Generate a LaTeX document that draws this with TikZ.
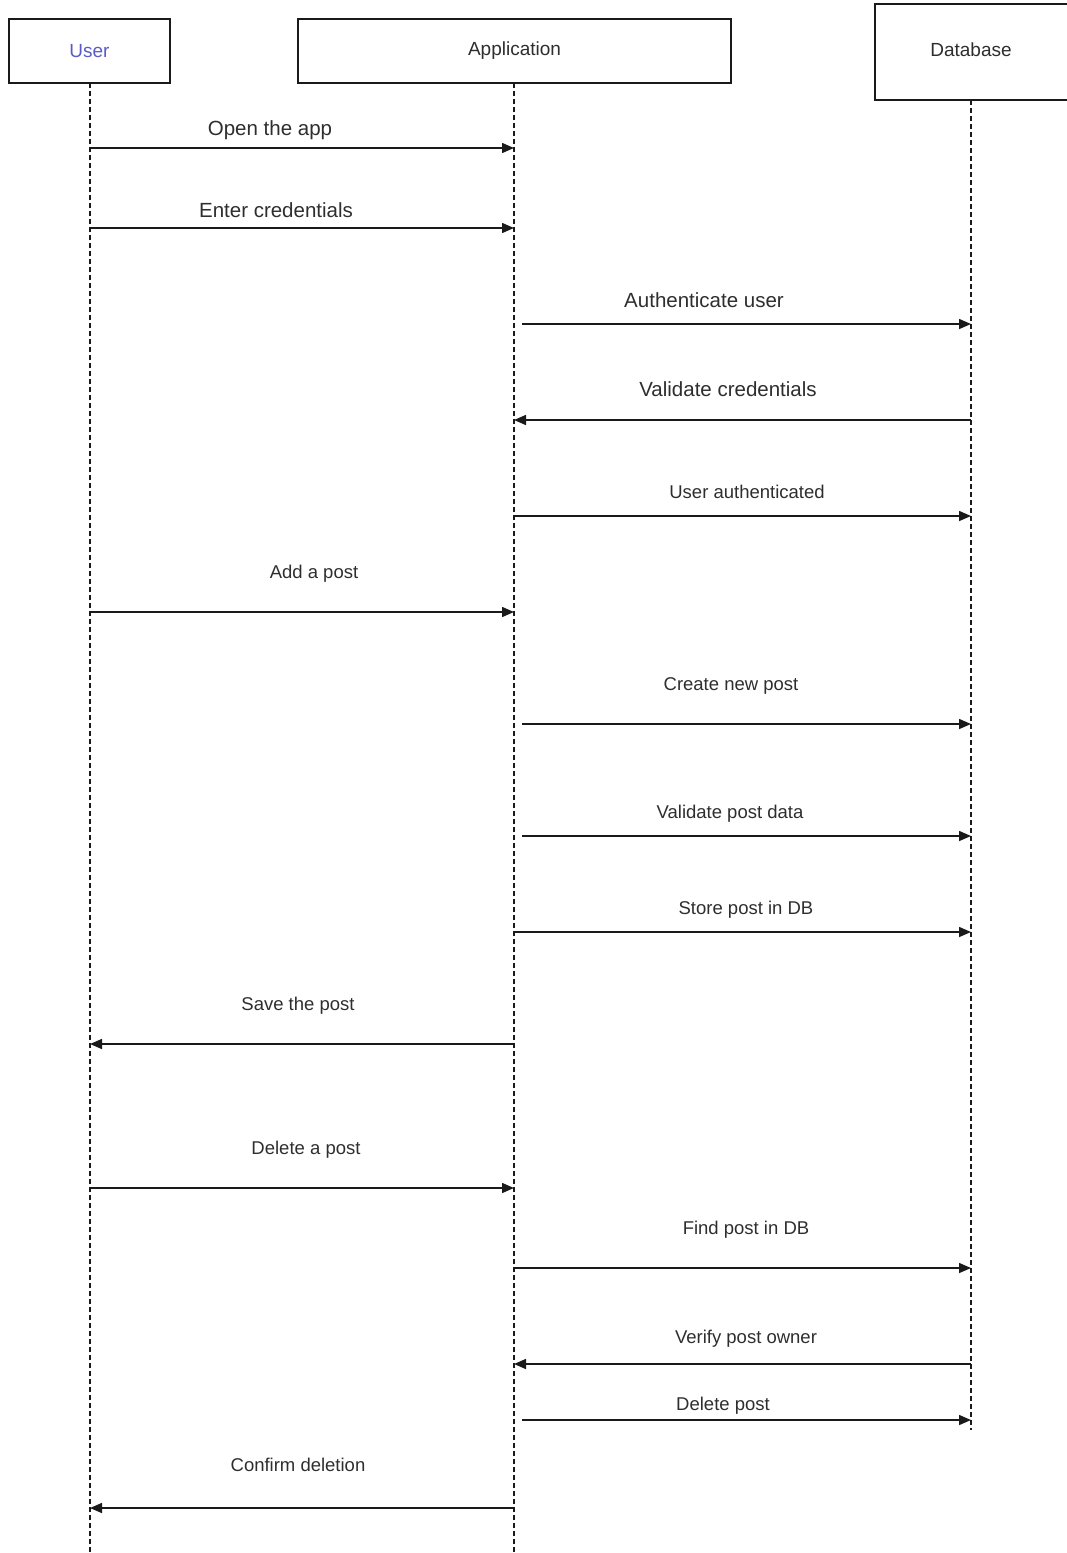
\documentclass[tikz,border=0pt]{standalone}
\usepackage{fontspec}
\setmainfont{Liberation Sans}
\usetikzlibrary{arrows.meta}
\definecolor{ink}{HTML}{1A1A1A}
\definecolor{textink}{HTML}{2E2E2E}
\definecolor{usertext}{HTML}{5B5BC8}
\begin{document}
\begin{tikzpicture}[x=1pt,y=-1pt,
  actor/.style={draw=ink, line width=1.3pt, fill=white, inner sep=0pt,
    font=\fontsize{19}{23}\selectfont, text=textink},
  lifeline/.style={draw=ink, line width=1.2pt, dash pattern=on 5pt off 3pt},
  msgline/.style={draw=ink, line width=1.5pt, -{Triangle[length=12pt,width=10pt]}},
  biglabel/.style={text=textink, font=\fontsize{20.5}{24}\selectfont, inner sep=0pt, anchor=base},
  smalllabel/.style={text=textink, font=\fontsize{18.5}{22}\selectfont, inner sep=0pt, anchor=base}]
\useasboundingbox (0,0) rectangle (1066,1553);

% participants
\node[actor, minimum width=161pt, minimum height=64pt, text=usertext] (user) at (89.5,51) {User};
\node[actor, minimum width=433pt, minimum height=64pt] (app) at (514.5,51) {Application};
\node[actor, minimum width=196pt, minimum height=96pt, text depth=0pt] (db) at (973,52) {};
\node[font=\fontsize{19}{23}\selectfont, text=textink] (dbname) at (971,50) {Database};

% lifeline ends
\coordinate (userend) at (90,1553);
\coordinate (append) at (514,1553);
\coordinate (dbend) at (971,1430);
\coordinate (usertop) at (90,83);
\coordinate (apptop) at (514,83);
\coordinate (dbtop) at (971,100);
\draw[lifeline] (usertop) -- (userend);
\draw[lifeline] (apptop) -- (append);
\draw[lifeline] (dbtop) -- (dbend);

% messages: \msg{y}{start x}{end x}{label}{label x}{label y}{style}
\newcommand{\msg}[7]{%
  \coordinate (s#1) at (#2,#1);
  \coordinate (e#1) at (#3,#1);
  \draw[msgline] (s#1) -- (e#1);
  \node[#7] (l#1) at (#5,#6) {#4};}

\msg{148}{90}{514}{Open the app}{270}{135.5}{biglabel}
\msg{228}{90}{514}{Enter credentials}{276}{217.5}{biglabel}
\msg{324}{522}{971}{Authenticate user}{704}{307.5}{biglabel}
\msg{420}{971}{514}{Validate credentials}{728}{396.5}{biglabel}
\msg{516}{514}{971}{User authenticated}{747}{498}{smalllabel}
\msg{612}{90}{514}{Add a post}{314}{578}{smalllabel}
\msg{724}{522}{971}{Create new post}{731}{690}{smalllabel}
\msg{836}{522}{971}{Validate post data}{730}{818}{smalllabel}
\msg{932}{514}{971}{Store post in DB}{746}{914}{smalllabel}
\msg{1044}{514}{90}{Save the post}{298}{1010}{smalllabel}
\msg{1188}{90}{514}{Delete a post}{306}{1154}{smalllabel}
\msg{1268}{514}{971}{Find post in DB}{746}{1234}{smalllabel}
\msg{1364}{971}{514}{Verify post owner}{746}{1343}{smalllabel}
\msg{1420}{522}{971}{Delete post}{723}{1410}{smalllabel}
\msg{1508}{514}{90}{Confirm deletion}{298}{1471}{smalllabel}
\end{tikzpicture}
\end{document}
